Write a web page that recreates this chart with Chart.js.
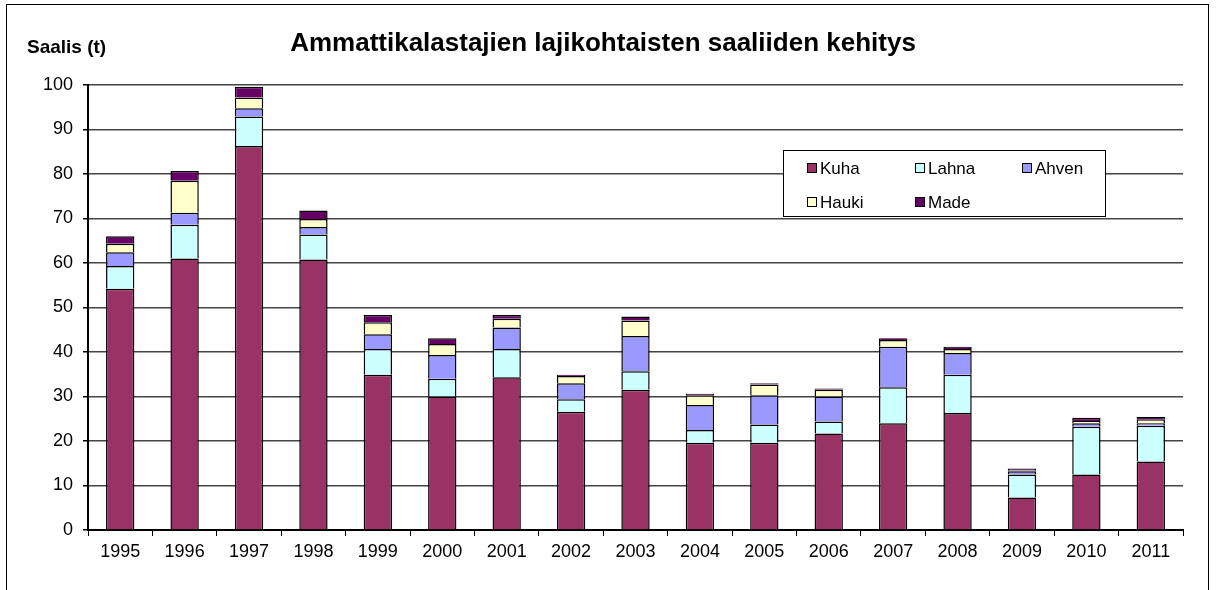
<!DOCTYPE html>
<html>
<head>
<meta charset="utf-8">
<script src="https://cdn.jsdelivr.net/npm/chart.js@4/dist/chart.umd.min.js"></script>
<style>
  body { margin: 0; background: #fff; }
  #wrap { position: relative; width: 1216px; height: 590px; }
</style>
</head>
<body>
<div id="wrap"><canvas id="mycanvas" width="1216" height="590"></canvas></div>
<script>
var years = ['1995','1996','1997','1998','1999','2000','2001','2002','2003','2004','2005','2006','2007','2008','2009','2010','2011'];
var kuha  = [54.2, 61.0, 86.3, 60.8, 34.9, 30.0, 34.3, 26.6, 31.5, 19.6, 19.6, 21.7, 24.0, 26.3, 7.3, 12.5, 15.4];
var lahna = [5.1, 7.6, 6.6, 5.6, 5.8, 4.0, 6.4, 2.8, 4.2, 2.9, 4.1, 2.7, 8.1, 8.6, 5.2, 10.7, 8.0];
var ahven = [3.1, 2.7, 1.9, 1.7, 3.3, 5.3, 4.8, 3.6, 7.9, 5.6, 6.6, 5.6, 9.1, 4.9, 0.7, 0.8, 0.6];
var hauki = [1.9, 7.2, 2.4, 1.8, 2.7, 2.5, 2.0, 1.6, 3.5, 2.2, 2.4, 1.5, 1.5, 0.9, 0.2, 0.5, 0.9];
var made  = [1.7, 2.2, 2.4, 1.9, 1.6, 1.3, 0.8, 0.3, 0.9, 0.3, 0.3, 0.3, 0.4, 0.5, 0.4, 0.7, 0.5];

var seriesNames = ['Kuha', 'Lahna', 'Ahven', 'Hauki', 'Made'];
var seriesColors = ['#993366', '#CCFFFF', '#9999FF', '#FFFFCC', '#660066'];
var seriesData = [kuha, lahna, ahven, hauki, made];
var fontFam = '"Liberation Sans", Arial, sans-serif';

var datasets = [];
for (var i in seriesNames) {
	datasets.push({
		label: seriesNames[i],
		data: seriesData[i],
		backgroundColor: seriesColors[i],
		borderColor: '#000',
		borderWidth: 1.5,
		categoryPercentage: 1,
		barPercentage: 0.44
	});
}

// frame, titles and the boxed legend
var decor = {
	id: 'decor',
	beforeDraw: function(chart) {
		var c = chart.ctx;
		c.save();
		c.fillStyle = '#fff';
		c.fillRect(0, 0, chart.width, chart.height);
		c.strokeStyle = '#000';
		c.lineWidth = 1;
		c.strokeRect(6.5, 4.5, 1202, 620);
		c.fillStyle = '#000';
		c.textBaseline = 'middle';
		c.font = 'bold 26px ' + fontFam;
		c.textAlign = 'center';
		c.fillText('Ammattikalastajien lajikohtaisten saaliiden kehitys', 603, 44);
		c.font = 'bold 19px ' + fontFam;
		c.textAlign = 'left';
		c.fillText('Saalis (t)', 27, 48);
		c.restore();
	},
	afterDatasetsDraw: function(chart) {
		var c = chart.ctx;
		c.save();
		c.fillStyle = '#fff';
		c.fillRect(783, 150, 322, 66);
		c.strokeStyle = '#000';
		c.lineWidth = 1;
		c.strokeRect(783.5, 150.5, 322, 66);
		var pos = [[807, 168], [915, 168], [1022, 168], [807, 202], [915, 202]];
		c.font = '17px ' + fontFam;
		c.textBaseline = 'middle';
		c.textAlign = 'left';
		for (var k = 0; k < 5; k++) {
			c.fillStyle = seriesColors[k];
			c.fillRect(pos[k][0], pos[k][1] - 5, 9, 9);
			c.strokeStyle = '#000';
			c.strokeRect(pos[k][0] + 0.5, pos[k][1] - 4.5, 9, 9);
			c.fillStyle = '#000';
			c.fillText(seriesNames[k], pos[k][0] + 13, pos[k][1] + 1);
		}
		c.restore();
	}
};

var ctx = document.getElementById('mycanvas');
var barGraph = new Chart(ctx, {
	type: 'bar',
	data: { labels: years, datasets: datasets },
	options: {
		responsive: false,
		animation: false,
		layout: { padding: { top: 85, right: 33, bottom: 20, left: 8 } },
		plugins: {
			legend: { display: false },
			tooltip: { enabled: false }
		},
		scales: {
			x: {
				stacked: true,
				afterFit: function(s) { s.height = 40; },
				grid: { display: true, drawOnChartArea: false, offset: true, color: '#000', tickLength: 6, lineWidth: 1 },
				border: { color: '#000', width: 2 },
				ticks: { color: '#000', font: { size: 18, family: fontFam }, padding: 5 }
			},
			y: {
				stacked: true,
				min: 0,
				max: 100,
				afterFit: function(s) { s.width = 80; },
				ticks: { stepSize: 10, color: '#000', font: { size: 18, family: fontFam }, padding: 10 },
				grid: { color: '#444', lineWidth: 1.5, tickLength: 5, tickColor: '#000' },
				border: { color: '#000', width: 2 }
			}
		}
	},
	plugins: [decor]
});
</script>
</body>
</html>
